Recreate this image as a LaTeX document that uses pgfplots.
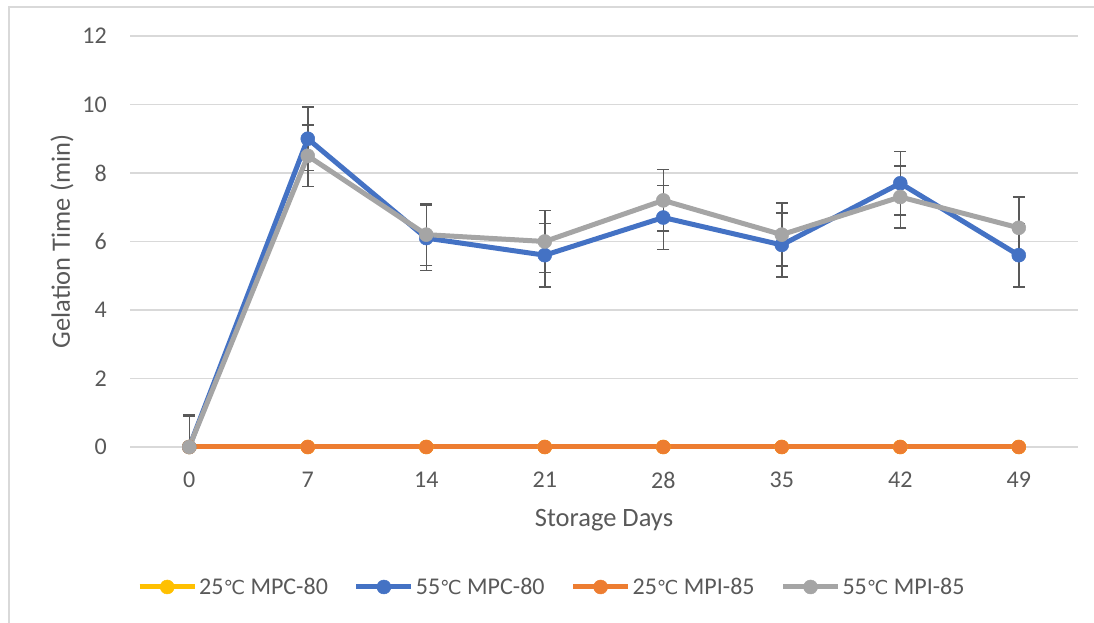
\documentclass[border=0pt]{standalone}
\usepackage{fontspec}
\setmainfont{Carlito}
\newfontfamily\dv[Scale=0.8]{DejaVu Sans}
\usepackage{pgfplots}
\pgfplotsset{compat=1.18}
\definecolor{cyel}{HTML}{FFC000}
\definecolor{cblue}{HTML}{4472C4}
\definecolor{corange}{HTML}{ED7D31}
\definecolor{cgray}{HTML}{A5A5A5}
\definecolor{gridc}{HTML}{D9D9D9}
\definecolor{txt}{HTML}{595959}
\definecolor{errc}{HTML}{595959}
\newcommand\dc{{\dv ℃}}
\begin{document}
\begin{tikzpicture}[x=1pt,y=1pt]
\useasboundingbox (0,0) rectangle (1094,623);
\draw[gridc, line width=1.5pt] (9,0) -- (9,616) -- (1094,616);
\begin{axis}[
  at={(130pt,176pt)}, anchor=south west,
  scale only axis, width=948pt, height=411pt,
  xmin=-0.5, xmax=7.5, ymin=0, ymax=12,
  clip=false,
  xtick={0,...,7}, xticklabels={0,7,14,21,28,35,42,49},
  ytick={0,2,...,12},
  ymajorgrids, grid style={gridc, line width=1.5pt},
  axis line style={draw=none},
  major tick length=0pt,
  tick label style={font=\fontsize{24}{28}\selectfont, text=txt, inner sep=0pt},
  /pgf/number format/assume math mode=true,
  yticklabel style={anchor=east, xshift=-23pt},
  xticklabel style={anchor=north, yshift=-25pt},
  xlabel={Storage Days}, ylabel={Gelation Time (min)},
  label style={font=\fontsize{26.5}{30}\selectfont, text=txt, inner sep=0pt},
  xlabel style={at={(axis description cs:0.5,-0.1946)}, anchor=base},
  ylabel style={at={(axis description cs:-0.0633,0.5)}, anchor=base},
  legend columns=4,
  legend style={at={(axis description cs:0.445,-0.3406)}, anchor=center,
    draw=none, fill=none, font=\fontsize{24}{28}\selectfont, text=txt,
    nodes={inner xsep=2pt, inner ysep=0pt},
    /tikz/every even column/.append style={column sep=24pt}},
  legend image code/.code={\draw[mark repeat=2,mark phase=2] plot coordinates {(0pt,0pt) (27.5pt,0pt) (55pt,0pt)};},
  every axis plot/.append style={line width=5pt, line join=round, mark=*, mark size=7pt},
]
% error bars (drawn first, behind the lines)
\addplot[forget plot, draw=none, mark=none,
  error bars/.cd, y dir=both, y explicit,
  error bar style={draw=errc, line width=1.5pt},
  error mark options={draw=errc, rotate=90, mark size=6pt, line width=1.5pt}]
  coordinates {(0,0) += (0,0.93) -= (0,0)
  (1,9.0) +- (0,0.93) (2,6.1) +- (0,0.95) (3,5.6) +- (0,0.93) (4,6.7) +- (0,0.93)
  (5,5.9) +- (0,0.93) (6,7.7) +- (0,0.93) (7,5.6) +- (0,0.93)};
\addplot[forget plot, draw=none, mark=none,
  error bars/.cd, y dir=both, y explicit,
  error bar style={draw=errc, line width=1.5pt},
  error mark options={draw=errc, rotate=90, mark size=6pt, line width=1.5pt}]
  coordinates {(0,0) += (0,0.9) -= (0,0)
  (1,8.5) +- (0,0.9) (2,6.2) +- (0,0.9) (3,6.0) +- (0,0.9) (4,7.2) +- (0,0.9)
  (5,6.2) +- (0,0.92) (6,7.3) +- (0,0.9) (7,6.4) +- (0,0.9)};
% series
\addplot[cyel, mark options={fill=cyel, line width=0.5pt}]
  coordinates {(0,0) (1,0) (2,0) (3,0) (4,0) (5,0) (6,0) (7,0)};
\addlegendentry{25\dc{} MPC-80}
\addplot[cblue, mark options={fill=cblue, line width=0.5pt}]
  coordinates {(0,0) (1,9.0) (2,6.1) (3,5.6) (4,6.7) (5,5.9) (6,7.7) (7,5.6)};
\addlegendentry{55\dc{} MPC-80}
\addplot[corange, mark options={fill=corange, line width=0.5pt}]
  coordinates {(0,0) (1,0) (2,0) (3,0) (4,0) (5,0) (6,0) (7,0)};
\addlegendentry{25\dc{} MPI-85}
\addplot[cgray, mark options={fill=cgray, line width=0.5pt}]
  coordinates {(0,0) (1,8.5) (2,6.2) (3,6.0) (4,7.2) (5,6.2) (6,7.3) (7,6.4)};
\addlegendentry{55\dc{} MPI-85}
\end{axis}
\end{tikzpicture}
\end{document}
